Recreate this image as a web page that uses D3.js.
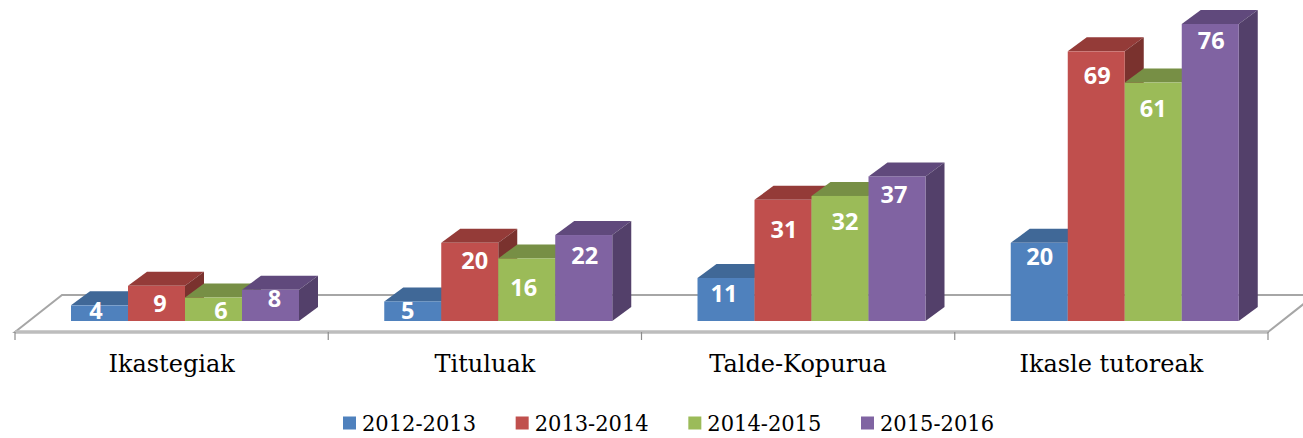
<!DOCTYPE html>
<html><head><meta charset="utf-8">
<script src="https://cdn.jsdelivr.net/npm/d3@7/dist/d3.min.js"></script>
<style>html,body{margin:0;padding:0;background:#fff;overflow:hidden}svg{display:block}</style>
</head><body><svg id="c" width="1303" height="438"></svg>
<script>
const categories = ["Ikastegiak", "Tituluak", "Talde-Kopurua", "Ikasle tutoreak"];
const seriesNames = ["2012-2013", "2013-2014", "2014-2015", "2015-2016"];
const values2012 = [4, 5, 11, 20];
const values2013 = [9, 20, 31, 69];
const values2014 = [6, 16, 32, 61];
const values2015 = [8, 22, 37, 76];
const seriesValues = [values2012, values2013, values2014, values2015];

const frontColors = ["#4f81bd", "#c0504d", "#9bbb59", "#8064a2"];
const topColors   = ["#3f6797", "#943b38", "#778f45", "#604a7b"];
const sideColors  = ["#345580", "#7a312f", "#62763a", "#523f6a"];

// drop of each value label below its bar top, px (series x category)
const labelDrop = [[5, 9, 16, 14], [18, 18, 30, 24], [12.5, 29.5, 26, 25.5], [9, 21, 18, 17]];
const labelShift = [[-3.5, -5, -2, 0.5], [3.5, 5, 1, 1], [7.5, -3, 5, 0], [4, 1, -3, 1]];

const svg = d3.select("#c");
const depthX = 19, depthY = 14;
const baseY = 321;
const y = d3.scaleLinear().domain([0, 76]).range([baseY, 24]);
const x0 = d3.scaleBand().domain(categories).range([15, 1268]);
const x1 = d3.scaleBand().domain(seriesNames).range([56, 56 + 228]);

const defs = svg.append("defs");
defs.append("filter").attr("id", "soft").attr("x", "-5%").attr("y", "-5%").attr("width", "110%").attr("height", "110%")
  .append("feGaussianBlur").attr("stdDeviation", 0.5);

const root = svg.append("g").attr("filter", "url(#soft)");

// floor
const floorFrontY = 332, floorBackY = 295, floorDX = 47;
const [fl, fr] = x0.range();
root.append("polygon")
  .attr("points", [[fl, floorFrontY], [fl + floorDX, floorBackY], [fr + floorDX, floorBackY], [fr, floorFrontY]].join(" "))
  .attr("fill", "#fff").attr("stroke", "#a6a6a6").attr("stroke-width", 2);
root.append("line").attr("x1", fl).attr("x2", fr).attr("y1", floorFrontY).attr("y2", floorFrontY)
  .attr("stroke", "#bdbdbd").attr("stroke-width", 3.5);

// category ticks
const tickXs = categories.map(c => x0(c)).concat(fr);
root.selectAll("line.tick").data(tickXs).join("line").attr("class", "tick")
  .attr("x1", d => d).attr("x2", d => d).attr("y1", floorFrontY).attr("y2", 340)
  .attr("stroke", "#8c8c8c").attr("stroke-width", 1.2);

// bars
categories.forEach((cat, ci) => {
  seriesNames.forEach((s, si) => {
    const v = seriesValues[si][ci];
    const xa = x0(cat) + x1(s), w = x1.bandwidth(), xb = xa + w, t = y(v);
    const g = root.append("g");
    g.append("polygon").attr("fill", topColors[si])
      .attr("points", [[xa, t], [xa + depthX, t - depthY], [xb + depthX, t - depthY], [xb, t]].join(" "));
    g.append("polygon").attr("fill", sideColors[si])
      .attr("points", [[xb, t], [xb + depthX, t - depthY], [xb + depthX, baseY - depthY], [xb, baseY]].join(" "));
    g.append("rect").attr("x", xa).attr("y", t).attr("width", w).attr("height", baseY - t).attr("fill", frontColors[si]);
  });
});

// value labels
const font = "'DejaVu Serif','Liberation Serif',serif";
categories.forEach((cat, ci) => {
  seriesNames.forEach((s, si) => {
    const v = seriesValues[si][ci];
    svg.append("text").text(v)
      .attr("x", x0(cat) + x1(s) + x1.bandwidth() / 2 + labelShift[si][ci])
      .attr("y", y(v) + labelDrop[si][ci])
      .attr("dy", "0.36em").attr("text-anchor", "middle")
      .attr("font-family", "'Open Sans','Noto Sans',sans-serif").attr("font-weight", 700)
      .attr("font-size", 23.5).attr("fill", "#fff");
  });
});

// category labels
svg.selectAll("text.cat").data(categories).join("text").attr("class", "cat")
  .attr("x", d => x0(d) + x0.bandwidth() / 2).attr("y", 372)
  .attr("text-anchor", "middle").attr("font-family", font)
  .attr("font-size", 24).attr("fill", "#000").text(d => d);

// legend
const legendX = d3.scalePoint().domain(seriesNames).range([343, 861]);
const lg = svg.selectAll("g.leg").data(seriesNames).join("g").attr("class", "leg")
  .attr("transform", d => `translate(${legendX(d)},0)`);
lg.append("rect").attr("y", 416.5).attr("width", 13).attr("height", 13).attr("fill", (d, i) => frontColors[i]);
lg.append("text").attr("x", 19).attr("y", 431).attr("font-family", font).attr("font-size", 23)
  .attr("textLength", 114).attr("lengthAdjust", "spacingAndGlyphs").attr("fill", "#000").text(d => d);
</script></body></html>
